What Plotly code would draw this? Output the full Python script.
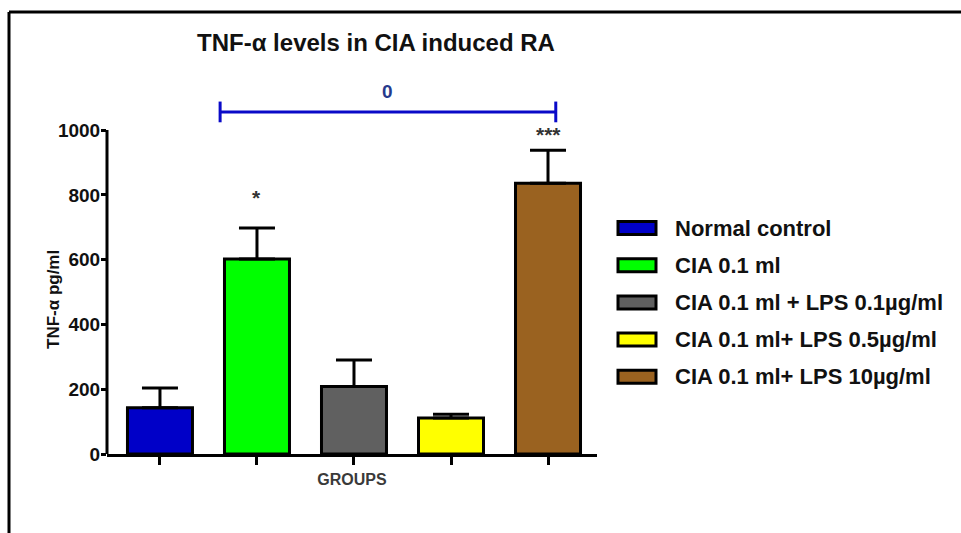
import plotly.graph_objects as go

# ---------------- data ----------------
groups = ["Normal control", "CIA 0.1 ml", "CIA 0.1 ml + LPS 0.1µg/ml",
          "CIA 0.1 ml+ LPS 0.5µg/ml", "CIA 0.1 ml+ LPS 10µg/ml"]
means = [143, 602, 208, 111, 836]
sems = [61, 96, 82, 12, 102]
colors = ["#0000c8", "#00ff00", "#606060", "#ffff00", "#9a6220"]
sig_marks = ["", "*", "", "", "***"]
sig_y = [0, 792, 0, 0, 986]
bracket_x = [0.62, 4.08]
bracket_y = 1056
bracket_label = "0"
y_ticks = [0, 200, 400, 600, 800, 1000]

# ---------------- layout geometry (pixels) ----------------
W, H = 961, 533
PL, PR, PT, PB = 107, 597, 75, 454   # plot area edges


def px_x(p):
    return (p - PL) / (PR - PL)


def px_y(p):
    return (PB - p) / (PB - PT)


FONT = "Liberation Sans, Arial, sans-serif"
x = list(range(len(groups)))

fig = go.Figure()
fig.add_trace(go.Bar(
    x=x, y=means, width=0.67,
    marker=dict(color=colors, line=dict(color="black", width=3)),
    error_y=dict(type="data", symmetric=False, array=sems,
                 arrayminus=[0] * len(sems), color="black",
                 thickness=3, width=18),
    showlegend=False,
))

# significance stars
for xi, s, yv in zip(x, sig_marks, sig_y):
    if s:
        fig.add_annotation(x=xi, y=yv, text=s, showarrow=False,
                           font=dict(family=FONT, size=21, color="#333333",
                                     weight="bold"),
                           yanchor="middle")

# comparison bracket
bc = "#0a0ac8"
fig.add_shape(type="line", x0=bracket_x[0], x1=bracket_x[1], y0=bracket_y, y1=bracket_y,
              line=dict(color=bc, width=3))
for bx in bracket_x:
    fig.add_shape(type="line", x0=bx, x1=bx, y0=bracket_y - 32, y1=bracket_y + 32,
                  line=dict(color=bc, width=3))
fig.add_annotation(x=sum(bracket_x) / 2, y=bracket_y + 62, text=bracket_label,
                   showarrow=False, yanchor="middle",
                   font=dict(family=FONT, size=19, color="#263a8c", weight="bold"))

# y-axis line only from 0 to 1000
fig.add_shape(type="line", xref="paper", x0=0, x1=0, yref="y", y0=0, y1=y_ticks[-1],
              line=dict(color="black", width=3))

# y-axis title
fig.add_annotation(xref="paper", yref="paper", x=px_x(53), y=px_y(300),
                   text="TNF-α pg/ml", textangle=-90, showarrow=False,
                   xanchor="center", yanchor="middle",
                   font=dict(family=FONT, size=17, color="#111111", weight="bold"))

# manual legend
leg_top, leg_step = 228, 37.2
for i, (g, c) in enumerate(zip(groups, colors)):
    yc = leg_top + i * leg_step
    fig.add_shape(type="rect", xref="paper", yref="paper",
                  x0=px_x(618), x1=px_x(656), y0=px_y(yc - 6.5), y1=px_y(yc + 6.5),
                  line=dict(color="black", width=3), fillcolor=c)
    fig.add_annotation(xref="paper", yref="paper", x=px_x(673), y=px_y(yc),
                       text=g, showarrow=False,
                       xanchor="left", yanchor="middle",
                       font=dict(family=FONT, size=22, color="#111111", weight="bold"))

# outer frame (top and left)
fig.add_shape(type="line", xref="paper", yref="paper", x0=px_x(9), x1=px_x(W),
              y0=px_y(12), y1=px_y(12), line=dict(color="black", width=3))
fig.add_shape(type="line", xref="paper", yref="paper", x0=px_x(9), x1=px_x(9),
              y0=px_y(12), y1=px_y(H), line=dict(color="black", width=3))

fig.update_layout(
    width=W, height=H,
    margin=dict(l=PL, r=W - PR, t=PT, b=H - PB, pad=0),
    paper_bgcolor="white", plot_bgcolor="white",
    title=dict(text="TNF-α levels in CIA induced RA", xref="paper",
               x=px_x(376), xanchor="center", yref="container", y=1 - 43 / H,
               yanchor="middle",
               font=dict(family=FONT, size=24, color="#111111", weight="bold")),
    xaxis=dict(range=[-0.546, 4.505], showgrid=False, zeroline=False,
               showline=True, linecolor="black", linewidth=3,
               tickvals=x, ticktext=[""] * len(x), ticks="outside", ticklen=8,
               tickwidth=3, tickcolor="black", showticklabels=False,
               title=dict(text="GROUPS", standoff=10,
                          font=dict(family=FONT, size=16, color="#3a3a3a",
                                    weight="bold"))),
    yaxis=dict(range=[0, 1170], showgrid=False, zeroline=False, showline=False,
               tickvals=y_ticks, ticks="outside", ticklen=5, tickwidth=3,
               tickcolor="black", ticklabelstandoff=-3,
               tickfont=dict(family=FONT, size=19, color="#111111", weight="bold")),
    bargap=0.33,
)

fig.write_html("out.html")
